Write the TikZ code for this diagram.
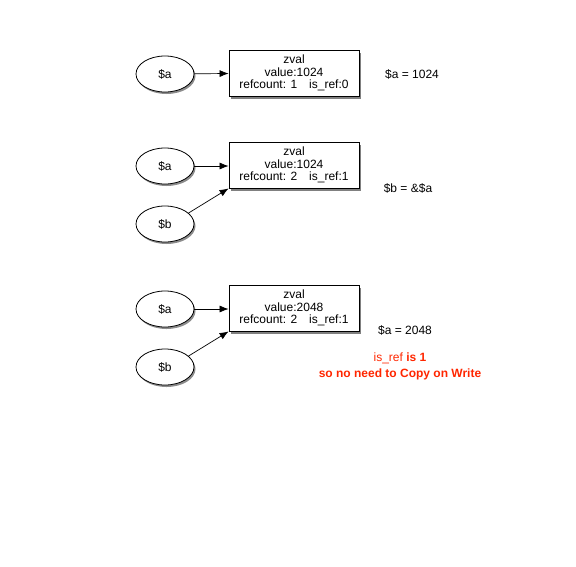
\documentclass[tikz,border=0pt]{standalone}
\usepackage{fontspec}
\setmainfont{Liberation Sans}
\usetikzlibrary{shapes.geometric,shadows,arrows.meta}
\definecolor{warn}{RGB}{255,38,0}
\begin{document}
\begin{tikzpicture}[x=1pt,y=-1pt,line width=0.8pt,
  var/.style={ellipse,draw,fill=white,minimum width=58pt,minimum height=36pt,inner sep=0pt,font=\fontsize{12}{13}\selectfont,drop shadow={shadow xshift=1.5pt,shadow yshift=-2pt,fill=black!45,opacity=1}},
  zv/.style={rectangle,draw,fill=white,minimum width=130pt,minimum height=46pt,inner sep=1pt,align=center,font=\fontsize{12}{12.5}\selectfont,drop shadow={shadow xshift=1.5pt,shadow yshift=-2.5pt,fill=black!50,opacity=1}},
  lab/.style={font=\fontsize{12}{13}\selectfont},
  conn/.style={line width=0.7pt,-{Latex[length=9pt,width=7pt]}}]
\useasboundingbox (0,0) rectangle (576,566);
% row 1
\node[var] (a1) at (165,74) {\$a};
\node[zv] (z1) at (294,73) {zval\\value:1024\\refcount: 1\quad is\_ref:0};
\node[lab] (t1) at (412,74) {\$a = 1024};
\draw[conn] (a1) -- (z1);
% row 2
\node[var] (a2) at (165,166) {\$a};
\node[var] (b2) at (165,224) {\$b};
\node[zv] (z2) at (294,165) {zval\\value:1024\\refcount: 2\quad is\_ref:1};
\node[lab] (t2) at (408,188) {\$b = \&\$a};
\draw[conn] (a2) -- (a2 -| z2.west);
\draw[conn] (b2.25) -- (z2.south west);
% row 3
\node[var] (a3) at (165,309) {\$a};
\node[var] (b3) at (165,367) {\$b};
\node[zv] (z3) at (294,308) {zval\\value:2048\\refcount: 2\quad is\_ref:1};
\node[lab] (t3) at (405,330) {\$a = 2048};
\node[lab,text=warn,align=center,font=\fontsize{12}{16}\selectfont] (t4) at (400,366) {is\_ref \textbf{is 1}\\\textbf{so no need to Copy on Write}};
\draw[conn] (a3) -- (a3 -| z3.west);
\draw[conn] (b3.25) -- (z3.south west);
\end{tikzpicture}
\end{document}
